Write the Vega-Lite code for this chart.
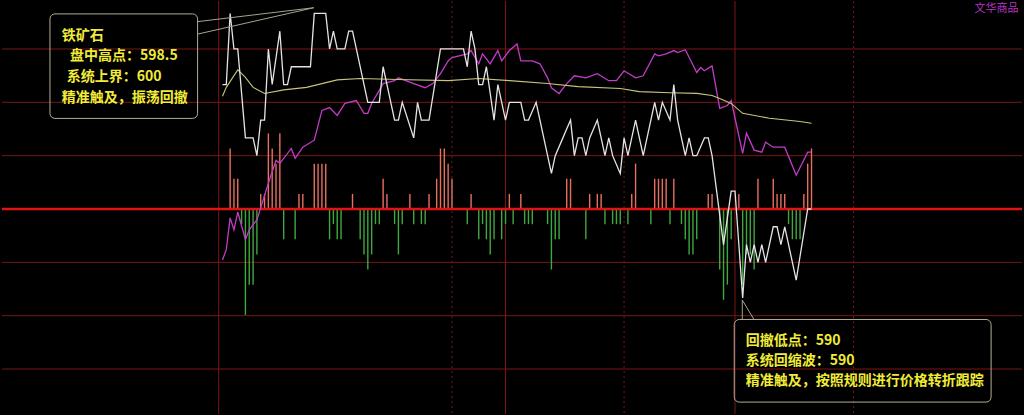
{
  "$schema": "https://vega.github.io/schema/vega-lite/v6.json",
  "width": 1024,
  "height": 415,
  "autosize": {"type": "fit", "contains": "padding"},
  "padding": 0,
  "background": "#000000",
  "config": {"view": {"stroke": null}, "axis": {"disable": true}},
  "datasets": {
    "price": [
      {"t":1,"p":596.5},{"t":2,"p":596.5},{"t":3,"p":598.5},{"t":4,"p":597.5},{"t":5,"p":597.5},{"t":7,"p":595},{"t":9,"p":595},{"t":10,"p":594.5},{"t":11,"p":595.5},{"t":12,"p":595.5},{"t":13,"p":597.5},{"t":14,"p":596.5},{"t":16,"p":598},{"t":17,"p":596.5},{"t":18,"p":596.5},{"t":19,"p":597},{"t":24,"p":597},{"t":25,"p":598.5},{"t":28,"p":598.5},{"t":29,"p":597.5},{"t":30,"p":598},{"t":31,"p":597.5},{"t":33,"p":597.5},{"t":34,"p":598},{"t":35,"p":598},{"t":36,"p":597.5},{"t":39,"p":596},{"t":42,"p":596},{"t":43,"p":597},{"t":46,"p":595.5},{"t":47,"p":595.5},{"t":48,"p":596},{"t":51,"p":595},{"t":52,"p":596},{"t":53,"p":595.5},{"t":55,"p":595.5},{"t":58,"p":597.5},{"t":64,"p":597.5},{"t":65,"p":597},{"t":66,"p":598},{"t":67,"p":597.5},{"t":68,"p":596.5},{"t":69,"p":596.5},{"t":70,"p":597},{"t":72,"p":595.5},{"t":73,"p":596.5},{"t":75,"p":595.5},{"t":76,"p":596},{"t":79,"p":596},{"t":80,"p":595.5},{"t":81,"p":595.5},{"t":83,"p":596},{"t":84,"p":595.5},{"t":87,"p":594},{"t":88,"p":594.5},{"t":90,"p":595},{"t":92,"p":595.5},{"t":93,"p":594.5},{"t":94,"p":595},{"t":95,"p":595},{"t":96,"p":594.5},{"t":97,"p":595},{"t":99,"p":595.5},{"t":101,"p":594.5},{"t":102,"p":595},{"t":103,"p":594.5},{"t":105,"p":594},{"t":106,"p":595},{"t":107,"p":594.5},{"t":109,"p":595.5},{"t":111,"p":594.5},{"t":112,"p":595},{"t":114,"p":596},{"t":115,"p":595.5},{"t":116,"p":596},{"t":118,"p":595.5},{"t":119,"p":596.5},{"t":120,"p":595.5},{"t":122,"p":594.5},{"t":123,"p":595},{"t":124,"p":594.5},{"t":125,"p":594.5},{"t":127,"p":595},{"t":128,"p":595},{"t":129,"p":594.5},{"t":132,"p":592},{"t":134,"p":593.5},{"t":135,"p":593.5},{"t":137,"p":590.5},{"t":138,"p":592},{"t":139,"p":591.5},{"t":140,"p":592},{"t":141,"p":591.5},{"t":142,"p":592},{"t":143,"p":591.5},{"t":145,"p":592.5},{"t":146,"p":592.5},{"t":147,"p":592},{"t":148,"p":592.5},{"t":151,"p":591},{"t":154,"p":593},{"t":155,"p":593}
    ],
    "avg": [
      {"t":1,"p":596.17},{"t":2,"p":596.42},{"t":4,"p":596.75},{"t":5,"p":596.91},{"t":7,"p":596.7},{"t":9,"p":596.42},{"t":12,"p":596.25},{"t":17,"p":596.35},{"t":23,"p":596.42},{"t":31,"p":596.63},{"t":37,"p":596.67},{"t":47,"p":596.64},{"t":60,"p":596.61},{"t":68,"p":596.67},{"t":76,"p":596.61},{"t":86,"p":596.53},{"t":94,"p":596.44},{"t":105,"p":596.39},{"t":110,"p":596.3},{"t":118,"p":596.27},{"t":125,"p":596.25},{"t":129,"p":596.19},{"t":131,"p":596.11},{"t":134,"p":595.97},{"t":137,"p":595.69},{"t":144,"p":595.55},{"t":152,"p":595.46},{"t":155,"p":595.41}
    ],
    "flow": [
      {"t":1,"v":37.3},{"t":2,"v":39.8},{"t":3,"v":47.5},{"t":4,"v":44.6},{"t":5,"v":48.9},{"t":7,"v":42.2},{"t":8,"v":44.6},{"t":10,"v":47.0},{"t":11,"v":49.9},{"t":13,"v":55.9},{"t":15,"v":61.4},{"t":16,"v":60.7},{"t":19,"v":64.3},{"t":20,"v":61.9},{"t":22,"v":64.6},{"t":25,"v":66.3},{"t":27,"v":73.5},{"t":29,"v":74.2},{"t":31,"v":72.3},{"t":33,"v":75.2},{"t":36,"v":75.9},{"t":38,"v":72.8},{"t":39,"v":72.8},{"t":40,"v":75.2},{"t":43,"v":80.0},{"t":46,"v":80.7},{"t":47,"v":81.4},{"t":51,"v":80.0},{"t":54,"v":79.0},{"t":56,"v":80.0},{"t":58,"v":82.4},{"t":60,"v":85.5},{"t":61,"v":86.3},{"t":65,"v":87.2},{"t":66,"v":88.0},{"t":68,"v":84.8},{"t":69,"v":87.2},{"t":71,"v":84.8},{"t":73,"v":88.0},{"t":74,"v":85.5},{"t":76,"v":88.0},{"t":78,"v":89.6},{"t":79,"v":85.5},{"t":82,"v":85.5},{"t":84,"v":84.8},{"t":86,"v":81.4},{"t":87,"v":79.0},{"t":89,"v":77.6},{"t":91,"v":80.0},{"t":93,"v":81.9},{"t":96,"v":81.4},{"t":99,"v":82.4},{"t":102,"v":80.7},{"t":104,"v":80.7},{"t":106,"v":83.1},{"t":109,"v":81.4},{"t":111,"v":81.9},{"t":114,"v":87.2},{"t":115,"v":86.7},{"t":117,"v":87.2},{"t":119,"v":88.0},{"t":120,"v":87.5},{"t":122,"v":88.2},{"t":125,"v":82.7},{"t":126,"v":83.9},{"t":127,"v":83.1},{"t":129,"v":84.3},{"t":131,"v":74.0},{"t":133,"v":74.7},{"t":134,"v":75.9},{"t":137,"v":63.1},{"t":138,"v":68.0},{"t":140,"v":63.9},{"t":142,"v":63.4},{"t":143,"v":65.8},{"t":145,"v":64.6},{"t":148,"v":64.6},{"t":151,"v":57.8},{"t":154,"v":63.4},{"t":155,"v":63.4}
    ],
    "bars": [
      {"t":3,"v":4},{"t":4,"v":2},{"t":5,"v":2},{"t":11,"v":1},{"t":12,"v":1},{"t":13,"v":5},{"t":14,"v":4},{"t":15,"v":3},{"t":16,"v":5},{"t":21,"v":1},{"t":22,"v":1},{"t":25,"v":3},{"t":26,"v":3},{"t":27,"v":3},{"t":28,"v":3},{"t":35,"v":1},{"t":43,"v":2},{"t":44,"v":1},{"t":50,"v":1},{"t":55,"v":1},{"t":57,"v":2},{"t":58,"v":4},{"t":59,"v":4},{"t":60,"v":3},{"t":61,"v":2},{"t":66,"v":1},{"t":76,"v":1},{"t":79,"v":1},{"t":91,"v":2},{"t":92,"v":2},{"t":97,"v":1},{"t":99,"v":1},{"t":100,"v":1},{"t":108,"v":1},{"t":109,"v":3},{"t":114,"v":2},{"t":115,"v":2},{"t":116,"v":2},{"t":117,"v":2},{"t":119,"v":2},{"t":128,"v":1},{"t":129,"v":1},{"t":136,"v":1},{"t":141,"v":2},{"t":145,"v":2},{"t":146,"v":1},{"t":147,"v":1},{"t":148,"v":1},{"t":153,"v":1},{"t":154,"v":3},{"t":155,"v":4},
      {"t":6,"v":-1},{"t":7,"v":-7},{"t":8,"v":-5},{"t":9,"v":-5},{"t":10,"v":-3},{"t":17,"v":-2},{"t":20,"v":-2},{"t":29,"v":-2},{"t":30,"v":-1},{"t":31,"v":-2},{"t":32,"v":-2},{"t":37,"v":-2},{"t":38,"v":-3},{"t":39,"v":-4},{"t":40,"v":-3},{"t":41,"v":-1},{"t":42,"v":-1},{"t":46,"v":-1},{"t":47,"v":-3},{"t":48,"v":-1},{"t":51,"v":-1},{"t":53,"v":-1},{"t":54,"v":-1},{"t":65,"v":-1},{"t":68,"v":-2},{"t":69,"v":-1},{"t":70,"v":-2},{"t":71,"v":-3},{"t":72,"v":-2},{"t":74,"v":-2},{"t":75,"v":-1},{"t":77,"v":-1},{"t":80,"v":-1},{"t":81,"v":-1},{"t":82,"v":-1},{"t":86,"v":-1},{"t":87,"v":-4},{"t":88,"v":-2},{"t":89,"v":-2},{"t":96,"v":-2},{"t":101,"v":-1},{"t":103,"v":-1},{"t":104,"v":-1},{"t":105,"v":-1},{"t":107,"v":-1},{"t":113,"v":-1},{"t":118,"v":-1},{"t":121,"v":-1},{"t":122,"v":-2},{"t":123,"v":-3},{"t":124,"v":-3},{"t":125,"v":-2},{"t":131,"v":-4},{"t":132,"v":-6},{"t":133,"v":-5},{"t":134,"v":-2},{"t":137,"v":-5},{"t":138,"v":-3},{"t":139,"v":-3},{"t":140,"v":-4},{"t":149,"v":-1},{"t":150,"v":-2},{"t":151,"v":-2},{"t":152,"v":-2}
    ],
    "hgrid": [{"p":597.5},{"p":596},{"p":594.5},{"p":591.5},{"p":590},{"p":588.5}],
    "sessions": [{"t":0},{"t":75},{"t":135}],
    "hours": [{"t":61},{"t":106},{"t":166}],
    "base": [{"p":593}],
    "boxes": [
      {"t":-44.1,"t2":-5.5,"p":598.486,"p2":595.547},
      {"t":134.8,"t2":201.95,"p":589.893,"p2":587.57}
    ],
    "callouts": [
      {"t":-5.42,"p":598.27,"t2":24.87,"p2":598.66},
      {"t":-5.42,"p":597.92,"t2":24.87,"p2":598.66},
      {"t":136.9,"p":589.89,"t2":136.9,"p2":590.44},
      {"t":139.97,"p":589.89,"t2":136.9,"p2":590.44}
    ],
    "notes": [
      {"t":-41.02,"p":597.87,"text":"铁矿石"},
      {"t":-38.85,"p":597.31,"text":"盘中高点：598.5"},
      {"t":-39.71,"p":596.72,"text":"系统上界：600"},
      {"t":-41.02,"p":596.13,"text":"精准触及，振荡回撤"},
      {"t":137.8,"p":589.28,"text":"回撤低点：590"},
      {"t":137.8,"p":588.72,"text":"系统回缩波：590"},
      {"t":137.8,"p":588.16,"text":"精准触及，按照规则进行价格转折跟踪"}
    ],
    "brand": [{"t":197.6,"p":598.62,"text":"文华商品"}]
  },
  "resolve": {"scale": {"y": "independent"}},
  "layer": [
    {
      "data": {"name": "hgrid"},
      "mark": {"type": "rule", "stroke": "#7c1616", "strokeWidth": 1},
      "encoding": {
        "y": {"field": "p", "type": "quantitative", "scale": {"domain": [587.235, 598.849], "nice": false, "zero": false}}
      }
    },
    {
      "data": {"name": "sessions"},
      "mark": {"type": "rule", "stroke": "#7c1616", "strokeWidth": 1},
      "encoding": {
        "x": {"field": "t", "type": "quantitative", "scale": {"domain": [-56.64, 210.03], "nice": false, "zero": false}}
      }
    },
    {
      "data": {"name": "hours"},
      "mark": {"type": "rule", "stroke": "#7c1616", "strokeWidth": 1, "strokeDash": [2, 3]},
      "encoding": {
        "x": {"field": "t", "type": "quantitative", "scale": {"domain": [-56.64, 210.03], "nice": false, "zero": false}}
      }
    },
    {
      "data": {"name": "bars"},
      "mark": {"type": "rule", "strokeWidth": 1.4},
      "encoding": {
        "x": {"field": "t", "type": "quantitative", "scale": {"domain": [-56.64, 210.03], "nice": false, "zero": false}},
        "y": {"field": "v", "type": "quantitative", "scale": {"domain": [-13.55, 13.75], "nice": false, "zero": false}},
        "y2": {"datum": 0},
        "color": {"condition": {"test": "datum.v > 0", "value": "#e8705e"}, "value": "#3fa83f"}
      }
    },
    {
      "data": {"name": "base"},
      "mark": {"type": "rule", "stroke": "#e01414", "strokeWidth": 2.5},
      "encoding": {
        "y": {"field": "p", "type": "quantitative", "scale": {"domain": [587.235, 598.849], "nice": false, "zero": false}}
      }
    },
    {
      "data": {"name": "flow"},
      "mark": {"type": "line", "stroke": "#c23cc8", "strokeWidth": 1.3, "clip": true},
      "encoding": {
        "x": {"field": "t", "type": "quantitative", "scale": {"domain": [-56.64, 210.03], "nice": false, "zero": false}},
        "y": {"field": "v", "type": "quantitative", "scale": {"domain": [0, 100], "nice": false, "zero": false}}
      }
    },
    {
      "data": {"name": "avg"},
      "mark": {"type": "line", "stroke": "#c8c478", "strokeWidth": 1.1, "clip": true},
      "encoding": {
        "x": {"field": "t", "type": "quantitative", "scale": {"domain": [-56.64, 210.03], "nice": false, "zero": false}},
        "y": {"field": "p", "type": "quantitative", "scale": {"domain": [587.235, 598.849], "nice": false, "zero": false}}
      }
    },
    {
      "data": {"name": "price"},
      "mark": {"type": "line", "stroke": "#e4e4e4", "strokeWidth": 1.3, "clip": true},
      "encoding": {
        "x": {"field": "t", "type": "quantitative", "scale": {"domain": [-56.64, 210.03], "nice": false, "zero": false}},
        "y": {"field": "p", "type": "quantitative", "scale": {"domain": [587.235, 598.849], "nice": false, "zero": false}}
      }
    },
    {
      "data": {"name": "boxes"},
      "mark": {"type": "rect", "fill": "#000000", "fillOpacity": 0, "stroke": "#b4ad96", "strokeWidth": 1, "cornerRadius": 5, "clip": true},
      "encoding": {
        "x": {"field": "t", "type": "quantitative", "scale": {"domain": [-56.64, 210.03], "nice": false, "zero": false}},
        "x2": {"field": "t2"},
        "y": {"field": "p", "type": "quantitative", "scale": {"domain": [587.235, 598.849], "nice": false, "zero": false}},
        "y2": {"field": "p2"}
      }
    },
    {
      "data": {"name": "callouts"},
      "mark": {"type": "rule", "stroke": "#a8a38c", "strokeWidth": 1, "clip": true},
      "encoding": {
        "x": {"field": "t", "type": "quantitative", "scale": {"domain": [-56.64, 210.03], "nice": false, "zero": false}},
        "x2": {"field": "t2"},
        "y": {"field": "p", "type": "quantitative", "scale": {"domain": [587.235, 598.849], "nice": false, "zero": false}},
        "y2": {"field": "p2"}
      }
    },
    {
      "data": {"name": "notes"},
      "mark": {"type": "text", "align": "left", "baseline": "middle", "font": "Noto Sans CJK SC", "fontSize": 14, "fontWeight": "bold", "fill": "#f0ec38", "clip": true},
      "encoding": {
        "x": {"field": "t", "type": "quantitative", "scale": {"domain": [-56.64, 210.03], "nice": false, "zero": false}},
        "y": {"field": "p", "type": "quantitative", "scale": {"domain": [587.235, 598.849], "nice": false, "zero": false}},
        "text": {"field": "text"}
      }
    },
    {
      "data": {"name": "brand"},
      "mark": {"type": "text", "align": "left", "baseline": "middle", "font": "Noto Sans CJK SC", "fontSize": 11, "fill": "#b834c4", "clip": true},
      "encoding": {
        "x": {"field": "t", "type": "quantitative", "scale": {"domain": [-56.64, 210.03], "nice": false, "zero": false}},
        "y": {"field": "p", "type": "quantitative", "scale": {"domain": [587.235, 598.849], "nice": false, "zero": false}},
        "text": {"field": "text"}
      }
    }
  ]
}
